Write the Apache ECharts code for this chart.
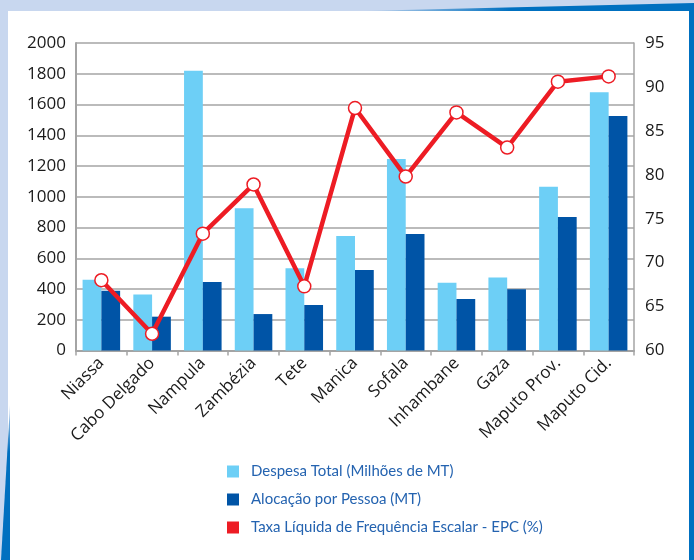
<!DOCTYPE html>
<html>
<head>
<meta charset="utf-8">
<script src="https://cdn.jsdelivr.net/npm/echarts@6/dist/echarts.min.js"></script>
<style>
  html, body { margin: 0; padding: 0; background: #c8d7ef; }
  #chart { width: 694px; height: 560px; }
</style>
</head>
<body>
<div id="chart"></div>
<script>
// Provinces of Mozambique
const provinces = ['Niassa', 'Cabo Delgado', 'Nampula', 'Zambézia', 'Tete', 'Manica',
  'Sofala', 'Inhambane', 'Gaza', 'Maputo Prov.', 'Maputo Cid.'];

// Total spending (millions of MT)
const despesaTotal = [460, 365, 1820, 925, 535, 745, 1245, 440, 475, 1065, 1680];

// Allocation per person (MT)
const alocacaoPessoa = [388, 220, 445, 237, 296, 524, 757, 335, 398, 868, 1525];

// Net school attendance rate - EPC (%)
const taxaFrequencia = [68.0, 61.9, 73.3, 78.9, 67.3, 87.6, 79.8, 87.1, 83.1, 90.6, 91.2];

const seriesNames = [
  'Despesa Total (Milhões de MT)',
  'Alocação por Pessoa (MT)',
  'Taxa Líquida de Frequência Escalar - EPC (%)'
];

const leftTicks = { min: 0, max: 2000, interval: 200 };
const rightTicks = { min: 60, max: 95, interval: 5 };

const LIGHT = '#6dcff6';
const DARK = '#0054a6';
const RED = '#ed1c24';
const GRID = '#a4a4a4';
const FONT = 'Open Sans';
const TEXT = '#1a1a1a';

const chart = echarts.init(document.getElementById('chart'), null, { renderer: 'canvas' });

chart.setOption({
  backgroundColor: '#c8d7ef',
  animation: false,
  graphic: [
    // white page panel
    { type: 'rect', z: -10, shape: { x: 8, y: 11, width: 681, height: 560 }, style: { fill: '#ffffff' } },
    // right edge stripe
    { type: 'rect', z: -9, shape: { x: 689, y: 4, width: 5, height: 560 }, style: { fill: '#0070c0' } },
    // top-right wedge
    { type: 'polygon', z: -9, shape: { points: [[360, 11], [694, 3], [694, 11]] },
      style: { fill: new echarts.graphic.LinearGradient(0, 0, 1, 0, [
        { offset: 0, color: '#c8d7ef' }, { offset: 0.45, color: '#0070c0' }, { offset: 1, color: '#0070c0' }]) } },
    // bottom-left wedge
    { type: 'polygon', z: -9, shape: { points: [[10, 405], [10, 560], [1, 560]] },
      style: { fill: new echarts.graphic.LinearGradient(0, 0, 0, 1, [
        { offset: 0, color: '#c8d7ef' }, { offset: 0.3, color: '#0070c0' }, { offset: 1, color: '#0070c0' }]) } }
  ],
  grid: { left: 76, right: 60, top: 43, bottom: 209.5, containLabel: false },
  legend: {
    orient: 'vertical',
    left: 222,
    top: 459,
    itemWidth: 12,
    itemHeight: 12,
    itemGap: 13,
    textStyle: { color: '#2463b0', fontFamily: 'Lato', fontSize: 15, padding: [0, 0, 0, 7] },
    data: [
      { name: seriesNames[0], icon: 'rect', itemStyle: { color: LIGHT } },
      { name: seriesNames[1], icon: 'rect', itemStyle: { color: DARK } },
      { name: seriesNames[2], icon: 'rect', itemStyle: { color: RED, borderWidth: 0 } }
    ]
  },
  xAxis: {
    type: 'category',
    data: provinces,
    axisLine: { lineStyle: { color: GRID, width: 2 } },
    axisTick: { show: true, length: 5, lineStyle: { color: GRID, width: 1.5 } },
    axisLabel: { rotate: 45, margin: 10, color: TEXT, fontFamily: FONT, fontSize: 17, interval: 0 }
  },
  yAxis: [
    {
      type: 'value',
      min: leftTicks.min, max: leftTicks.max, interval: leftTicks.interval,
      axisLine: { show: true, lineStyle: { color: GRID, width: 2 } },
      axisTick: { show: false },
      splitLine: { show: true, lineStyle: { color: GRID, width: 1.5 } },
      axisLabel: { margin: 10, color: TEXT, fontFamily: FONT, fontSize: 17, formatter: v => String(v) }
    },
    {
      type: 'value',
      position: 'right',
      min: rightTicks.min, max: rightTicks.max, interval: rightTicks.interval,
      axisLine: { show: true, lineStyle: { color: GRID, width: 1.5 } },
      axisTick: { show: false },
      splitLine: { show: false },
      axisLabel: { margin: 11, color: TEXT, fontFamily: FONT, fontSize: 17, formatter: v => String(v) }
    }
  ],
  series: [
    {
      name: seriesNames[0],
      type: 'bar',
      data: despesaTotal,
      barGap: '0%',
      barCategoryGap: '26%',
      itemStyle: { color: LIGHT }
    },
    {
      name: seriesNames[1],
      type: 'bar',
      data: alocacaoPessoa,
      barGap: '0%',
      barCategoryGap: '26%',
      itemStyle: { color: DARK }
    },
    {
      name: seriesNames[2],
      type: 'line',
      yAxisIndex: 1,
      data: taxaFrequencia,
      z: 5,
      symbol: 'circle',
      symbolSize: 13,
      showAllSymbol: true,
      lineStyle: { color: RED, width: 4.5 },
      itemStyle: { color: '#ffffff', borderColor: RED, borderWidth: 1.5 }
    }
  ]
});
</script>
</body>
</html>
